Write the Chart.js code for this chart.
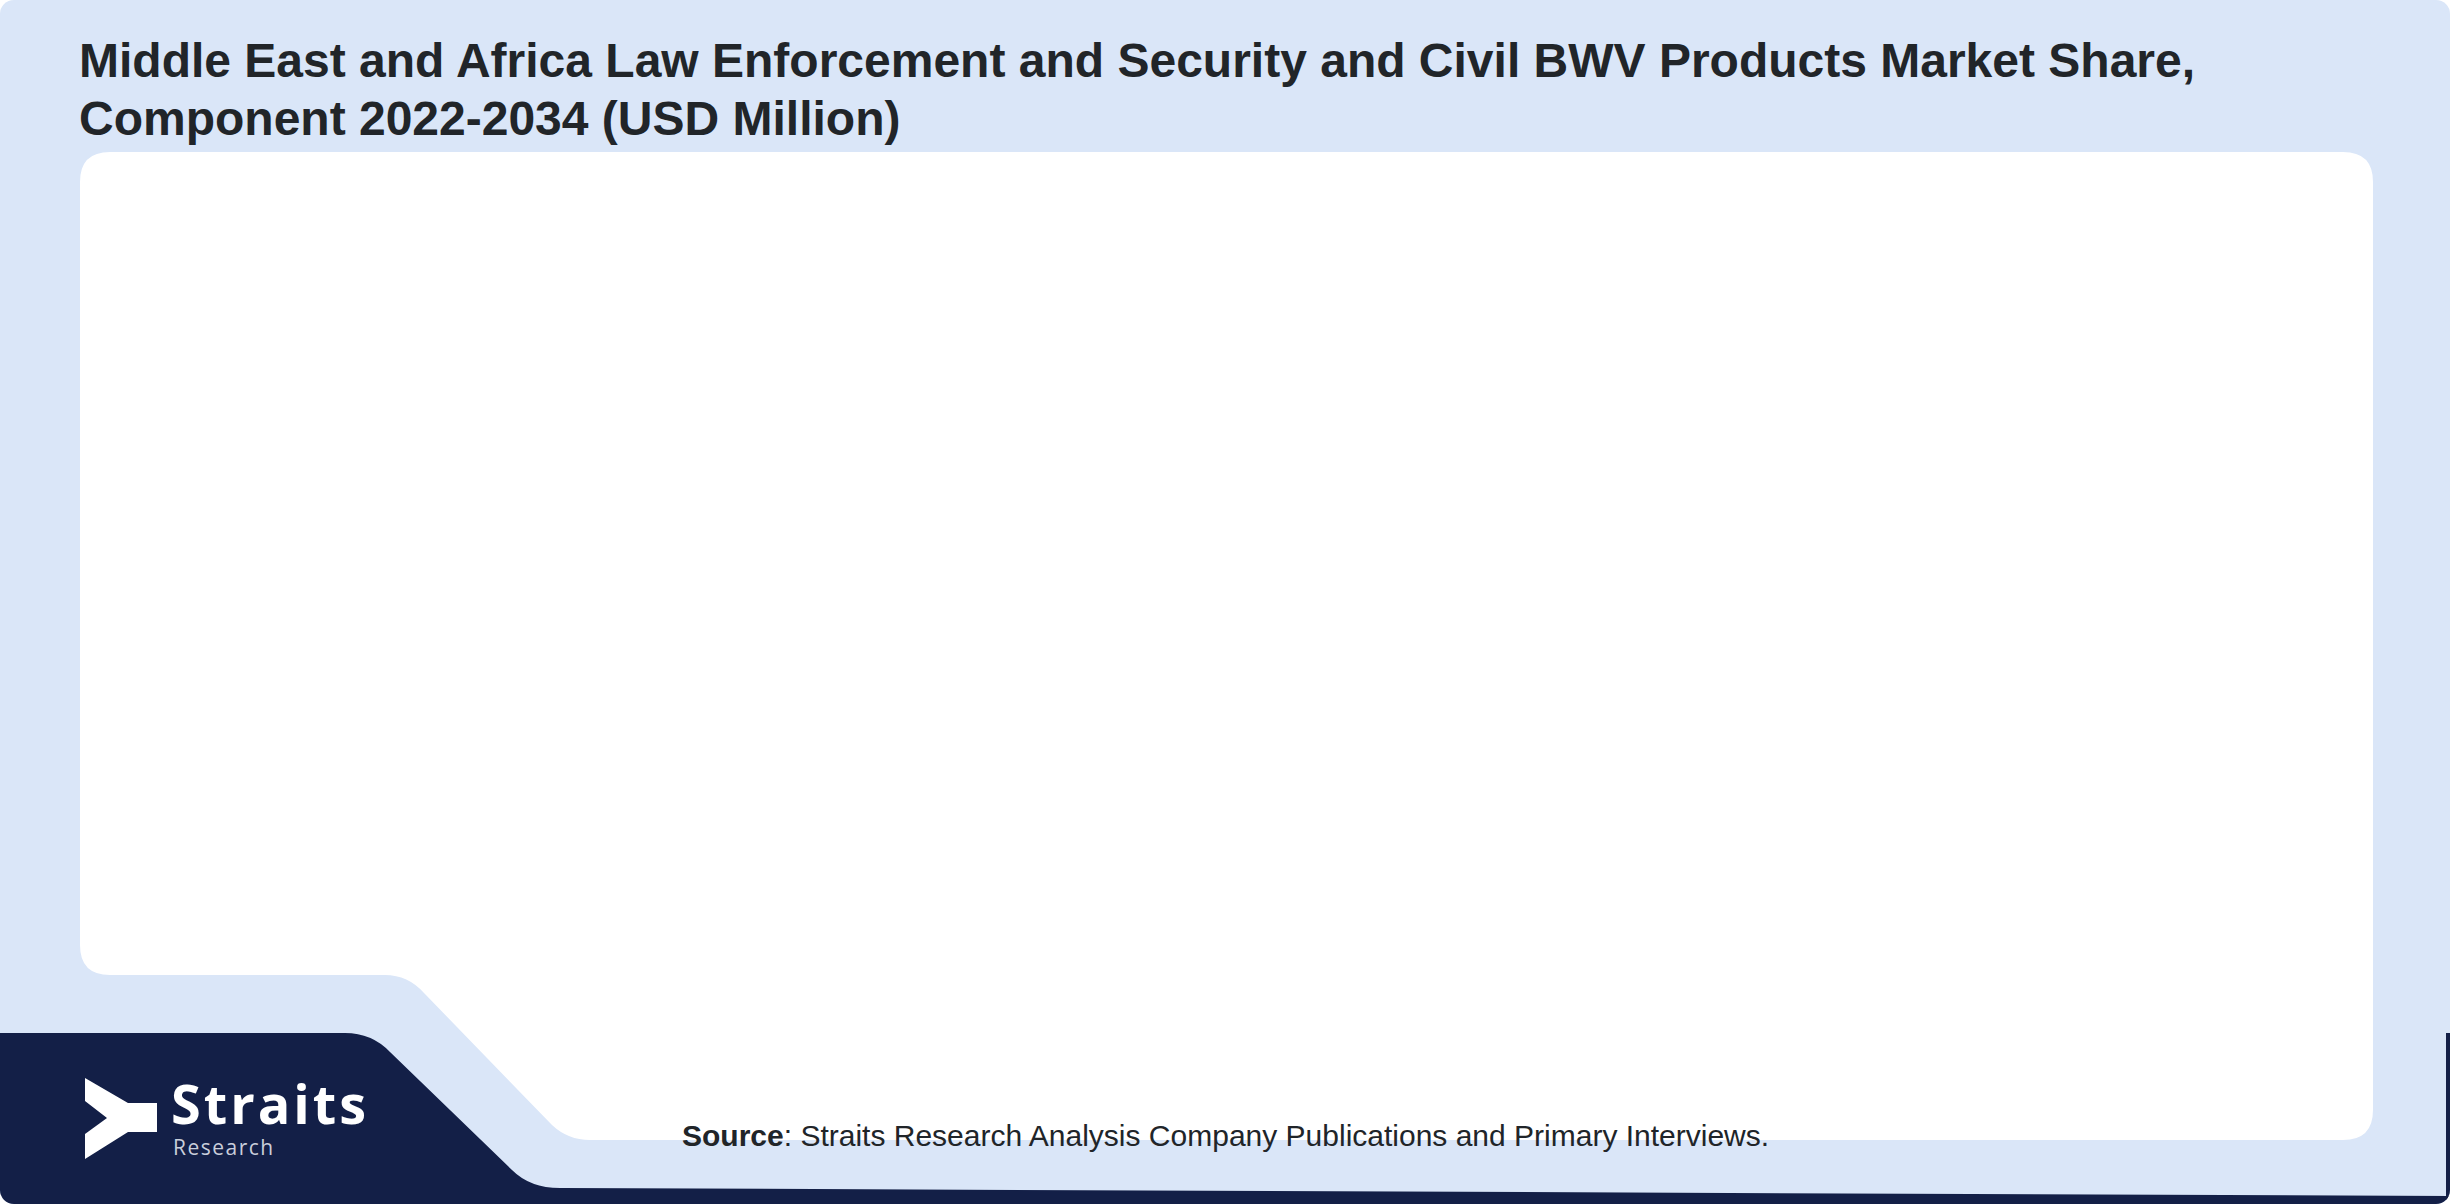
<!DOCTYPE html>
<html>
<head>
<meta charset="utf-8">
<title>MEA Law Enforcement BWV Products Market Share</title>
<script src="https://cdn.jsdelivr.net/npm/chart.js"></script>
<style>
    html, body { margin: 0; padding: 0; background: #ffffff; }
    .frame {
        position: relative;
        width: 2450px;
        height: 1204px;
        background: #dae6f8;
        border-radius: 14px;
        overflow: hidden;
        font-family: "Liberation Sans", Arial, sans-serif;
    }
    .deco { position: absolute; left: 0; top: 0; }
    .title {
        position: absolute;
        left: 79px;
        top: 32px;
        margin: 0;
        width: 2260px;
        font-size: 48px;
        line-height: 58px;
        font-weight: 700;
        color: #212529;
    }
    .chart-box {
        position: absolute;
        left: 80px;
        top: 152px;
        width: 2293px;
        height: 823px;
    }
    .logo-name {
        position: absolute;
        left: 171px;
        top: 1068px;
        font-family: "Open Sans", sans-serif;
        font-weight: 700;
        font-size: 54px;
        line-height: 70px;
        color: #ffffff;
        letter-spacing: 3px;
    }
    .logo-sub {
        position: absolute;
        left: 173px;
        top: 1134px;
        font-family: "Open Sans", sans-serif;
        font-size: 21px;
        line-height: 26px;
        color: #c9cedb;
        letter-spacing: 1.5px;
    }
    .source {
        position: absolute;
        left: 682px;
        top: 1119px;
        font-size: 30px;
        line-height: 34px;
        color: #212529;
    }
</style>
</head>
<body>
<div class="frame">
    <svg class="deco" width="2450" height="1204" viewBox="0 0 2450 1204">
        <!-- white panel with the stepped lower-left corner -->
        <path fill="#ffffff" d="M110 152 H2343 Q2373 152 2373 182 V1110 Q2373 1140 2343 1140
                 H590 Q568 1140 552 1125 L424 993 Q408 975 385 975
                 H110 Q80 975 80 945 V182 Q80 152 110 152 Z"/>
        <!-- navy footer band -->
        <path fill="#131f47" d="M0 1033 H345 Q372 1033 390 1052 L512 1170 Q530 1188 560 1188
                 L2450 1196 V1204 H0 Z"/>
        <rect x="2446" y="1033" width="4" height="171" fill="#131f47"/>
        <!-- logo mark -->
        <path fill="#ffffff" d="M85 1078 L128 1103 H157 V1132 H128 L85 1159 V1134 L107 1118 L85 1101 Z"/>
    </svg>

    <h1 class="title">Middle East and Africa Law Enforcement and Security and Civil BWV Products Market Share,<br>Component 2022-2034 (USD Million)</h1>

    <div class="chart-box"><canvas id="chart" width="2293" height="823"></canvas></div>

    <div class="logo-name">Straits</div>
    <div class="logo-sub">Research</div>
    <div class="source"><b>Source</b>: Straits Research Analysis Company Publications and Primary Interviews.</div>
</div>

<script>
// years on the x axis
const years = ['2022', '2023', '2024', '2025', '2026', '2027', '2028', '2029', '2030', '2031', '2032', '2033', '2034'];
// the reference panel shows no plotted values, so the series stay empty
const componentNames = [];
const componentValues = [];

const ChartModule = (() => {
    let chart = null;

    function init() {
        const canvas = document.getElementById('chart');
        const datasets = componentNames.map((name, i) => ({
            label: name,
            data: componentValues[i] || []
        }));

        chart = new Chart(canvas, {
            type: 'bar',
            data: {
                labels: years,
                datasets
            },
            options: {
                responsive: false,
                animation: false,
                devicePixelRatio: 1,
                plugins: {
                    legend: { display: false },
                    tooltip: { enabled: false }
                },
                scales: {
                    x: { display: false, stacked: true },
                    y: { display: false, stacked: true, beginAtZero: true }
                }
            }
        });
    }

    return { init };
})();

ChartModule.init();
</script>
</body>
</html>
